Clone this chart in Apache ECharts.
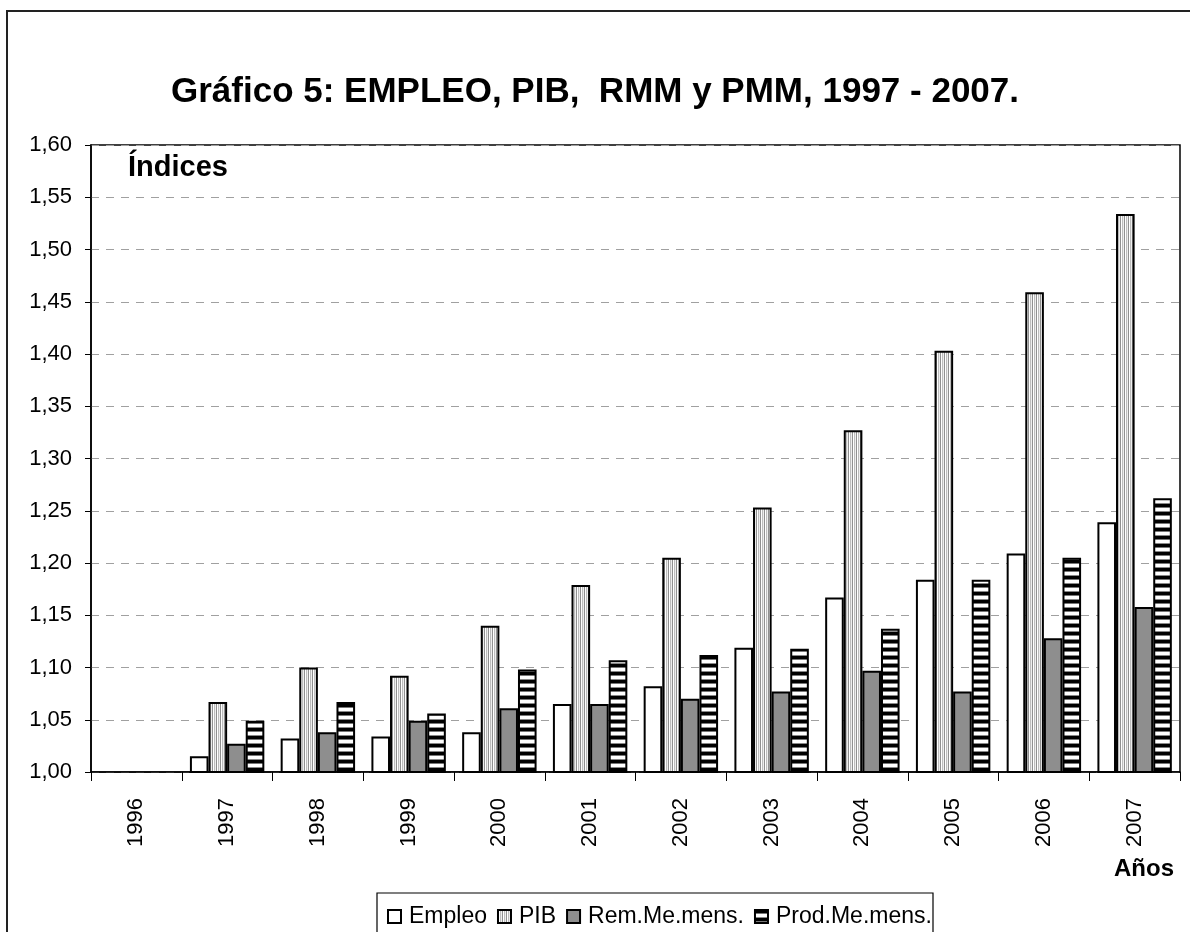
<!DOCTYPE html>
<html>
<head>
<meta charset="utf-8">
<script src="https://cdn.jsdelivr.net/npm/echarts@6/dist/echarts.min.js"></script>
<style>
  html, body { margin: 0; padding: 0; background: #fff; }
  #chart { width: 1190px; height: 932px; }
</style>
</head>
<body>
<div id="chart"></div>
<script>
// datos
var years = ['1996', '1997', '1998', '1999', '2000', '2001', '2002', '2003', '2004', '2005', '2006', '2007']
var empleo = [1.00, 1.015, 1.032, 1.034, 1.038, 1.065, 1.082, 1.119, 1.167, 1.184, 1.209, 1.239]
var pib = [1.00, 1.067, 1.100, 1.092, 1.140, 1.179, 1.205, 1.253, 1.327, 1.403, 1.459, 1.534]
var rem = [1.00, 1.027, 1.038, 1.049, 1.061, 1.065, 1.070, 1.077, 1.097, 1.077, 1.128, 1.158]
var prod = [1.00, 1.049, 1.067, 1.056, 1.098, 1.107, 1.112, 1.118, 1.137, 1.184, 1.205, 1.262]

// tramas (rayas verticales y horizontales)
function vStripes() {
  var c = document.createElement('canvas')
  c.width = 4; c.height = 4
  var ctx = c.getContext('2d')
  var cols = ['#909090', '#ffffff', '#bdbdbd', '#eeeeee']
  for (var i = 0; i < 4; i++) {
    ctx.fillStyle = cols[i]
    ctx.fillRect(i, 0, 1, 4)
  }
  return c
}
function hStripes() {
  var c = document.createElement('canvas')
  c.width = 4; c.height = 8
  var ctx = c.getContext('2d')
  var rows = ['#000', '#000', '#000', '#777', '#fff', '#fff', '#fff', '#888']
  for (var i = 0; i < 8; i++) {
    ctx.fillStyle = rows[i]
    ctx.fillRect(0, i, 4, 1)
  }
  return c
}

var myChart = echarts.init(document.getElementById('chart'))

var font = 'Liberation Sans, Arial, sans-serif'

function bar(name, data, color) {
  return {
    name: name,
    type: 'bar',
    data: data,
    barGap: '0%',
    barCategoryGap: '18%',
    itemStyle: { color: color, borderColor: '#000', borderWidth: 2 },
    emphasis: { disabled: true },
  }
}

var option = {
  animation: false,
  backgroundColor: '#fff',
  textStyle: { fontFamily: font },
  title: {
    text: 'Gráfico 5: EMPLEO, PIB,  RMM y PMM, 1997 - 2007.',
    left: 'center',
    top: 70,
    textStyle: { fontFamily: font, fontSize: 35, fontWeight: 'bold', color: '#000' },
  },
  legend: {
    left: 382,
    top: 900,
    itemWidth: 13,
    itemHeight: 13,
    itemGap: 10,
    icon: 'rect',
    textStyle: { fontFamily: font, fontSize: 23, color: '#000', padding: [0, 0, 0, 3] },
    data: ['Empleo', 'PIB', 'Rem.Me.mens.', 'Prod.Me.mens.'],
  },
  grid: {
    left: 91,
    right: 10,
    top: 145,
    bottom: 160,
    show: true,
    borderColor: '#000',
    borderWidth: 1.5,
  },
  xAxis: {
    type: 'category',
    data: years,
    axisLine: { lineStyle: { color: '#000', width: 1.5 } },
    axisTick: { show: true, length: 9, lineStyle: { color: '#000' } },
    axisLabel: { rotate: 90, margin: 26, fontSize: 22, color: '#000', fontFamily: font },
  },
  yAxis: {
    type: 'value',
    min: 1.0,
    max: 1.6,
    interval: 0.05,
    axisLine: { show: true, lineStyle: { color: '#000', width: 1.5 } },
    axisTick: { show: true, length: 6, lineStyle: { color: '#000' } },
    axisLabel: {
      margin: 19,
      fontSize: 22,
      color: '#000',
      fontFamily: font,
      formatter: function (v) { return v.toFixed(2).replace('.', ',') },
    },
    splitLine: { lineStyle: { color: '#a0a0a0', type: [8, 7], width: 1 } },
  },
  graphic: [
    // marco exterior
    { type: 'rect', shape: { x: 7, y: 11, width: 1200, height: 950 }, style: { fill: 'none', stroke: '#222', lineWidth: 2 }, silent: true },
    // caja de la leyenda
    { type: 'rect', shape: { x: 377, y: 893, width: 556, height: 60 }, style: { fill: 'none', stroke: '#000', lineWidth: 1.2 }, silent: true },
    { type: 'text', left: 128, top: 153, style: { text: 'Índices', font: 'bold 29px ' + font, fill: '#000' } },
    { type: 'text', left: 1114, top: 857, style: { text: 'Años', font: 'bold 24px ' + font, fill: '#000' } },
  ],
  series: [
    bar('Empleo', empleo, '#fff'),
    bar('PIB', pib, { image: vStripes(), repeat: 'repeat' }),
    bar('Rem.Me.mens.', rem, '#8e8e8e'),
    bar('Prod.Me.mens.', prod, { image: hStripes(), repeat: 'repeat' }),
  ],
}

myChart.setOption(option)
</script>
</body>
</html>
